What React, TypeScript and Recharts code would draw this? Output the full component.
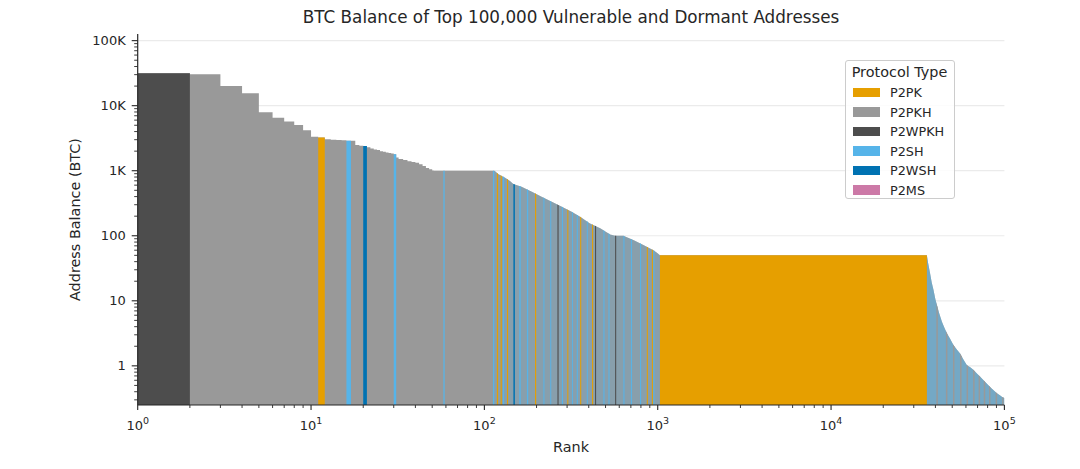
import React from 'react'
import { ComposedChart, Area, XAxis, YAxis, CartesianGrid, Legend, Label } from 'recharts'

if (typeof document !== 'undefined') document.body.style.margin = '0'

// protocol types shown in the legend and their colours
const protocolTypes = ['P2PK', 'P2PKH', 'P2WPKH', 'P2SH', 'P2WSH', 'P2MS']
const protocolColors: Record<string, string> = {
  P2PK: '#E69F00',
  P2PKH: '#999999',
  P2WPKH: '#4D4D4D',
  P2SH: '#56B4E9',
  P2WSH: '#0072B2',
  P2MS: '#CC79A7',
}

// balance curve, ranks 1..113: one level per rank (drawn as steps), balance in BTC
const stepRanks = [
  1, 2, 3, 4, 5, 6, 7, 8, 9, 10, 11, 12, 13, 14, 15, 16, 17, 18, 19, 20,
  21, 22, 23, 24, 25, 26, 27, 28, 29, 30, 31, 32, 34, 36, 38, 40, 42, 44, 46, 48, 50, 51, 113,
]
const stepBalances = [
  31500, 30400, 20000, 15500, 7900, 6500, 5700, 5050, 4200, 3330, 3230, 3050, 3000, 2960, 2930, 2900, 2880, 2480, 2430, 2400,
  2300, 2200, 2120, 2080, 2000, 1950, 1900, 1870, 1840, 1790, 1600, 1520, 1460, 1400, 1360, 1330, 1260, 1180, 1100, 1050, 1010, 1000, 1000,
]

// balance curve from rank 113 on (dense, drawn as a continuous line)
const smoothRanks = [
  113, 115, 120, 131, 140, 147, 164, 188, 214, 245, 280, 319, 357, 407, 466, 532, 568, 634, 680, 724,
  827, 945, 990, 1030,
  35700, 36300, 37300, 38100, 39000, 40000, 40800, 42000, 43600, 45000, 46600, 48600, 50800,
  53000, 55500, 58000, 60800, 63500, 66400, 69400, 72500, 75800, 79300, 82900, 86600, 90500,
  94600, 97500, 100000,
]
const smoothBalances = [
  1000, 990, 890, 790, 700, 624, 568, 475, 398, 333, 279, 234, 196, 155, 130, 105, 100, 100, 92, 86,
  72, 60, 55, 50,
  50, 38, 26, 19, 14.6, 10.5, 8.6, 6.5, 4.75, 3.9, 3.16, 2.6, 2.09,
  1.8, 1.55, 1.25, 1.02, 0.95, 0.86, 0.76, 0.68, 0.6, 0.53, 0.47, 0.42, 0.38,
  0.35, 0.33, 0.32,
]

// runs of addresses that are not P2PKH: type, first rank, rank after the run
const runTypes = [
  'P2WPKH', 'P2PK', 'P2SH', 'P2WSH', 'P2SH', 'P2SH', 'P2SH', 'P2PK', 'P2PK', 'P2SH',
  'P2PK', 'P2WSH', 'P2SH', 'P2SH', 'P2PK', 'P2SH', 'P2SH', 'P2WPKH', 'P2SH', 'P2PK',
  'P2SH', 'P2SH', 'P2PK', 'P2SH', 'P2PK', 'P2WPKH', 'P2SH', 'P2SH', 'P2WPKH', 'P2SH',
  'P2SH', 'P2SH', 'P2PK', 'P2PK', 'P2SH', 'P2PK',
  'P2PKH', 'P2PKH', 'P2PKH', 'P2PKH', 'P2PKH', 'P2PKH', 'P2PKH', 'P2PKH', 'P2PKH', 'P2PKH', 'P2PKH',
]
const runStarts = [
  1, 11, 16, 20, 30, 58, 112, 118, 124, 128,
  135, 147, 159, 176, 196, 219, 240, 264, 280, 301,
  320, 341, 357, 390, 418, 435, 486, 520, 568, 634,
  700, 791, 865, 925, 944, 1030,
  40500, 46000, 50500, 55500, 60500, 66000, 71000, 76000, 81500, 89000, 97000,
]
const runEnds = [
  2, 12, 17, 21, 31, 59, 114, 120, 126, 130,
  137, 150, 162, 179, 199, 222, 243, 268, 284, 305,
  324, 346, 362, 395, 424, 441, 493, 527, 576, 643,
  710, 802, 877, 938, 957, 35700,
  41300, 46900, 51500, 56600, 61700, 67300, 72400, 77500, 83100, 90800, 98900,
]

// rank ranges where P2SH addresses are interleaved with P2PKH (share of P2SH)
const mixStarts = [114, 35700]
const mixEnds = [1030, 100000]
const mixShares = [0.25, 0.55]

// axes
const xMajor = [1, 10, 100, 1000, 10000, 100000]
const xExponents = ['0', '1', '2', '3', '4', '5']
const yMajor = [1, 10, 100, 1000, 10000, 100000]
const yLabels = ['1', '10', '100', '1K', '10K', '100K']
const minorSteps = [2, 3, 4, 5, 6, 7, 8, 9]
const xDomain = [1, 100000]
const yDomain = [0.25, 126500]

const xTicks = [...xMajor, ...xMajor.slice(0, -1).flatMap(d => minorSteps.map(m => d * m))].sort((a, b) => a - b)
const yTicks = [
  ...minorSteps.filter(m => m >= 3).map(m => m / 10),
  ...yMajor,
  ...yMajor.slice(0, -1).flatMap(d => minorSteps.map(m => d * m)),
].sort((a, b) => a - b)

const smoothStart = smoothRanks[0]

const isMajor = (v: number) => Math.abs(Math.log10(v) - Math.round(Math.log10(v))) < 1e-9

// step part: level in force at a rank
const stepAt = (rank: number) => {
  let v = stepBalances[0]
  stepRanks.forEach((r, i) => {
    if (r <= rank) v = stepBalances[i]
  })
  return v
}

// smooth part: log-log interpolation between the read points
const smoothAt = (rank: number) => {
  for (let i = 0; i < smoothRanks.length - 1; i++) {
    const r0 = smoothRanks[i]
    const r1 = smoothRanks[i + 1]
    if (rank >= r0 && rank <= r1) {
      const t = (Math.log(rank) - Math.log(r0)) / (Math.log(r1) - Math.log(r0))
      return Math.exp(Math.log(smoothBalances[i]) + t * (Math.log(smoothBalances[i + 1]) - Math.log(smoothBalances[i])))
    }
  }
  return smoothBalances[smoothBalances.length - 1]
}

const stepPoints = (from: number, to: number) => {
  const pts = [{ rank: from, balance: stepAt(from) }]
  stepRanks.forEach((r, i) => {
    if (r > from && r < to) pts.push({ rank: r, balance: stepBalances[i] })
  })
  pts.push({ rank: to, balance: pts[pts.length - 1].balance })
  return pts
}

const smoothPoints = (from: number, to: number) => {
  const pts = [{ rank: from, balance: smoothAt(from) }]
  smoothRanks.forEach((r, i) => {
    if (r > from && r < to) pts.push({ rank: r, balance: smoothBalances[i] })
  })
  pts.push({ rank: to, balance: smoothAt(to) })
  return pts
}

const rangePoints = (from: number, to: number) => (from >= smoothStart ? smoothPoints(from, to) : stepPoints(from, to))
const rangeCurve = (from: number) => (from >= smoothStart ? 'linear' : 'stepAfter')

const TEXT = '#262626'
const FONT = 'DejaVu Sans'

const renderXTick = (props: any) => {
  const { x, y, payload } = props
  const major = isMajor(payload.value)
  const idx = xMajor.findIndex(v => Math.abs(v - payload.value) < 1e-6)
  return (
    <g>
      <line x1={x} x2={x} y1={y} y2={y + (major ? 5 : 3)} stroke={TEXT} strokeWidth={major ? 1.1 : 0.9} />
      {major && (
        <text x={x} y={y + 25} textAnchor="middle" fontSize={13} fill={TEXT} fontFamily={FONT}>
          <tspan>10</tspan>
          <tspan dy={-6} fontSize={9.5}>{xExponents[idx]}</tspan>
        </text>
      )}
    </g>
  )
}

const renderYTick = (props: any) => {
  const { x, y, payload } = props
  const major = isMajor(payload.value)
  const idx = yMajor.findIndex(v => Math.abs(v - payload.value) < 1e-6)
  return (
    <g>
      <line x1={x - (major ? 6 : 3.5)} x2={x} y1={y} y2={y} stroke={TEXT} strokeWidth={major ? 1.1 : 0.9} />
      {major && (
        <text x={x - 12} y={y} dy="0.35em" textAnchor="end" fontSize={13} fill={TEXT} fontFamily={FONT}>
          {yLabels[idx]}
        </text>
      )}
    </g>
  )
}

const renderLegend = () => (
  <div
    style={{
      width: 110,
      height: 139,
      border: '1px solid #cccccc',
      borderRadius: 3,
      background: 'rgba(255,255,255,0.85)',
      fontFamily: FONT,
      color: TEXT,
      position: 'relative',
      boxSizing: 'border-box',
    }}
  >
    <div style={{ position: 'absolute', top: 2, left: 0, width: '100%', textAlign: 'center', fontSize: 14.4, lineHeight: '18px' }}>
      Protocol Type
    </div>
    {protocolTypes.map((t, i) => (
      <div key={t} style={{ position: 'absolute', left: 7, top: 22 + i * 19.5, height: 19, display: 'flex', alignItems: 'center' }}>
        <div style={{ width: 27, height: 9.5, background: protocolColors[t] }} />
        <span style={{ marginLeft: 10.5, fontSize: 12.8 }}>{t}</span>
      </div>
    ))}
  </div>
)

export default function App() {
  return (
    <div style={{ position: 'relative', width: 1080, height: 469, background: '#fff', fontFamily: FONT }}>
      <div
        style={{
          position: 'absolute',
          top: 9,
          left: 137.7,
          width: 866.7,
          textAlign: 'center',
          fontSize: 16.8,
          lineHeight: '16.8px',
          color: TEXT,
          zIndex: 2,
        }}
      >
        BTC Balance of Top 100,000 Vulnerable and Dormant Addresses
      </div>
      <ComposedChart width={1080} height={469} margin={{ top: 34, right: 75.6, bottom: 0, left: 0 }}>
        <CartesianGrid vertical={false} horizontalValues={yMajor} stroke="#ebebeb" strokeWidth={1.2} />
        <XAxis
          type="number"
          dataKey="rank"
          scale="log"
          domain={xDomain}
          allowDataOverflow
          ticks={xTicks}
          interval={0}
          tick={renderXTick}
          tickLine={false}
          tickSize={0}
          tickMargin={0}
          axisLine={{ stroke: TEXT, strokeWidth: 1.2 }}
          height={64}
        >
          <Label
            content={(p: any) => (
              <text
                x={p.viewBox.x + p.viewBox.width / 2}
                y={p.viewBox.y + 42}
                textAnchor="middle"
                dominantBaseline="central"
                fontSize={14.4}
                fill={TEXT}
                fontFamily={FONT}
              >
                Rank
              </text>
            )}
          />
        </XAxis>
        <YAxis
          type="number"
          dataKey="balance"
          scale="log"
          domain={yDomain}
          allowDataOverflow
          ticks={yTicks}
          interval={0}
          tick={renderYTick}
          tickLine={false}
          tickSize={0}
          tickMargin={0}
          axisLine={{ stroke: TEXT, strokeWidth: 1.2 }}
          width={137.7}
        >
          <Label
            content={(p: any) => {
              const cx = p.viewBox.x + 75
              const cy = p.viewBox.y + p.viewBox.height / 2
              return (
                <text
                  x={cx}
                  y={cy}
                  transform={`rotate(-90 ${cx} ${cy})`}
                  textAnchor="middle"
                  dominantBaseline="central"
                  fontSize={14.4}
                  fill={TEXT}
                  fontFamily={FONT}
                >
                  Address Balance (BTC)
                </text>
              )
            }}
          />
        </YAxis>

        {/* P2PKH base: stepped head, continuous tail */}
        <Area
          data={stepPoints(xDomain[0], smoothStart)}
          dataKey="balance"
          type="stepAfter"
          baseValue={yDomain[0]}
          fill={protocolColors.P2PKH}
          fillOpacity={1}
          stroke="none"
          dot={false}
          activeDot={false}
          isAnimationActive={false}
        />
        <Area
          data={smoothPoints(smoothStart, xDomain[1])}
          dataKey="balance"
          type="linear"
          baseValue={yDomain[0]}
          fill={protocolColors.P2PKH}
          fillOpacity={1}
          stroke="none"
          dot={false}
          activeDot={false}
          isAnimationActive={false}
        />
        {mixStarts.map((from, i) => (
          <Area
            key={`mix-${i}`}
            data={rangePoints(from, mixEnds[i])}
            dataKey="balance"
            type={rangeCurve(from)}
            baseValue={yDomain[0]}
            fill={protocolColors.P2SH}
            fillOpacity={mixShares[i]}
            stroke="none"
            dot={false}
            activeDot={false}
            isAnimationActive={false}
          />
        ))}
        {runStarts.map((from, i) => (
          <Area
            key={`run-${i}`}
            data={rangePoints(from, runEnds[i])}
            dataKey="balance"
            type={rangeCurve(from)}
            baseValue={yDomain[0]}
            fill={protocolColors[runTypes[i]]}
            fillOpacity={1}
            stroke="none"
            dot={false}
            activeDot={false}
            isAnimationActive={false}
          />
        ))}

        <Legend
          layout="vertical"
          align="center"
          verticalAlign="middle"
          content={renderLegend}
          wrapperStyle={{ left: 844.5, top: 60, width: 111, height: 141 }}
        />
      </ComposedChart>
    </div>
  )
}
